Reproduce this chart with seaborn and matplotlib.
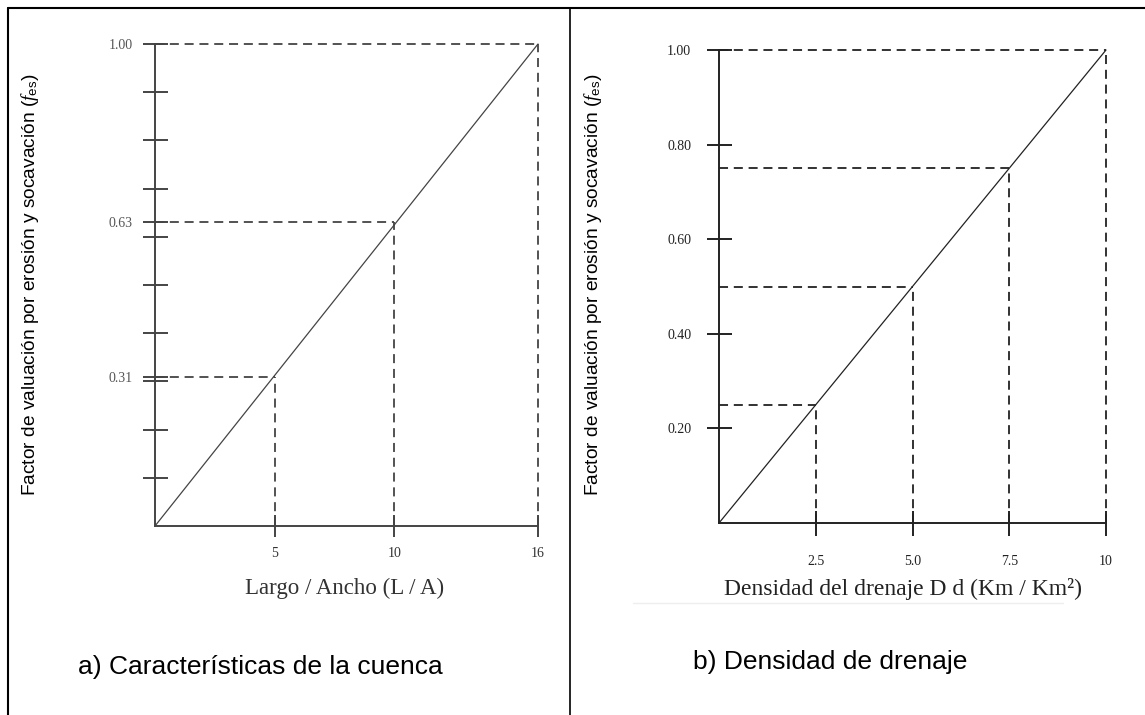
import matplotlib
matplotlib.use("Agg")
import matplotlib.pyplot as plt
import seaborn as sns
import pandas as pd
from matplotlib.lines import Line2D

# panel a) - Largo / Ancho
a_line_x = [0, 16]
a_line_y = [0, 1.00]
a_guide_x = [5, 10, 16]
a_guide_y = [0.31, 0.63, 1.00]
a_xticks = [5, 10, 16]
a_xticklabels = ["5", "10", "16"]
a_yticks_minor = [0.1, 0.2, 0.3, 0.4, 0.5, 0.6, 0.7, 0.8, 0.9]
a_yticks = [0.31, 0.63, 1.00]
a_yticklabels = ["0.31", "0.63", "1.00"]

# panel b) - Densidad de drenaje
b_line_x = [0, 10]
b_line_y = [0, 1.00]
b_guide_x = [2.5, 5.0, 7.5, 10]
b_guide_y = [0.25, 0.50, 0.75, 1.00]
b_xticks = [2.5, 5.0, 7.5, 10]
b_xticklabels = ["2.5", "5.0", "7.5", "10"]
b_yticks = [0.20, 0.40, 0.60, 0.80, 1.00]
b_yticklabels = ["0.20", "0.40", "0.60", "0.80", "1.00"]

ylabel = "Factor de valuación por erosión y socavación ($f_{\\mathrm{es}}$)"

sns.set_theme(style="white")
plt.rcParams['font.family'] = ['Liberation Sans', 'DejaVu Sans']
plt.rcParams['mathtext.fontset'] = 'custom'
plt.rcParams['mathtext.it'] = 'Liberation Serif:italic'
plt.rcParams['mathtext.rm'] = 'Liberation Sans'

W, H = 1145, 715
fig = plt.figure(figsize=(W / 100, H / 100), dpi=100)


def px_axes(x0, y0, x1, y1):
    # x0,y0 = origin pixel, x1,y1 = top-right pixel (top-left image coords)
    return fig.add_axes([x0 / W, 1 - y0 / H, (x1 - x0) / W, (y0 - y1) / H])


def draw_panel(ax, lx, ly, gx, gy, xmax, color):
    df = pd.DataFrame({"x": lx, "y": ly})
    sns.lineplot(data=df, x="x", y="y", ax=ax, color=color, lw=0.9, clip_on=False)
    for x, y in zip(gx, gy):
        ax.plot([0, x], [y, y], ls=(0, (5, 3.2)), color=color, lw=1.3, clip_on=False)
        ax.plot([x, x], [0, y], ls=(0, (5, 3.2)), color=color, lw=1.3, clip_on=False)
    ax.set_xlim(0, xmax)
    ax.set_ylim(0, 1)
    sns.despine(ax=ax)
    for s in ["left", "bottom"]:
        ax.spines[s].set_color(color)
        ax.spines[s].set_linewidth(1.4)
    ax.set_facecolor("none")


# ---- panel a
axa = px_axes(155, 526, 538, 44)
draw_panel(axa, a_line_x, a_line_y, a_guide_x, a_guide_y, 16, "#444444")
axa.set_xticks(a_xticks)
axa.set_xticklabels(a_xticklabels, family="Liberation Serif", fontsize=10, color="#333333")
axa.set_yticks(a_yticks)
axa.set_yticklabels(a_yticklabels, family="Liberation Serif", fontsize=10, color="#555555")
axa.set_yticks(a_yticks_minor, minor=True)
axa.tick_params(axis="x", bottom=True, direction="inout", length=16, width=1.4, color="#444444", pad=7)
axa.tick_params(axis="y", which="both", left=True, direction="inout", length=18, width=1.4,
                color="#444444", pad=7)
axa.set_xlabel("Largo / Ancho (L / A)", family="Liberation Serif", fontsize=16.5, color="#333333", va="center")
axa.xaxis.set_label_coords(0.496, -0.13)
axa.set_ylabel(ylabel, fontsize=13.8, color="black", va="center")
axa.yaxis.set_label_coords(-0.326, 0.5)

# ---- panel b
axb = px_axes(719, 523, 1106, 50)
draw_panel(axb, b_line_x, b_line_y, b_guide_x, b_guide_y, 10, "#222222")
axb.set_xticks(b_xticks)
axb.set_xticklabels(b_xticklabels, family="Liberation Serif", fontsize=10, color="#222222")
axb.set_yticks(b_yticks)
axb.set_yticklabels(b_yticklabels, family="Liberation Serif", fontsize=10, color="#222222")
axb.tick_params(axis="x", bottom=True, direction="inout", length=18, width=1.4, color="#222222", pad=14)
axb.tick_params(axis="y", left=True, direction="inout", length=18, width=1.4, color="#222222", pad=11)
axb.set_xlabel("Densidad del drenaje D d (Km / Km²)", family="Liberation Serif", fontsize=17,
               color="#222222", va="center")
axb.xaxis.set_label_coords(0.475, -0.14)
axb.set_ylabel(ylabel, fontsize=13.8, color="black", va="center")
axb.yaxis.set_label_coords(-0.326, 0.503)

# captions
fig.text(260 / W, 1 - 667 / H, "a) Características de la cuenca", ha="center", va="center",
         fontsize=19, color="black")
fig.text(830 / W, 1 - 662 / H, "b) Densidad de drenaje", ha="center", va="center",
         fontsize=19, color="black")

# table frame
fy = lambda y: 1 - y / H
fx = lambda x: x / W
fig.add_artist(Line2D([fx(8), 1], [fy(8), fy(8)], color="black", lw=1.5))
fig.add_artist(Line2D([fx(8), fx(8)], [fy(8), 0], color="black", lw=1.5))
fig.add_artist(Line2D([fx(570), fx(570)], [fy(8), 0], color="black", lw=1.2))
fig.add_artist(Line2D([fx(633), fx(1063)], [fy(603), fy(603)], color="#eeeeee", lw=1.0))

fig.savefig("out.png", dpi=100)
